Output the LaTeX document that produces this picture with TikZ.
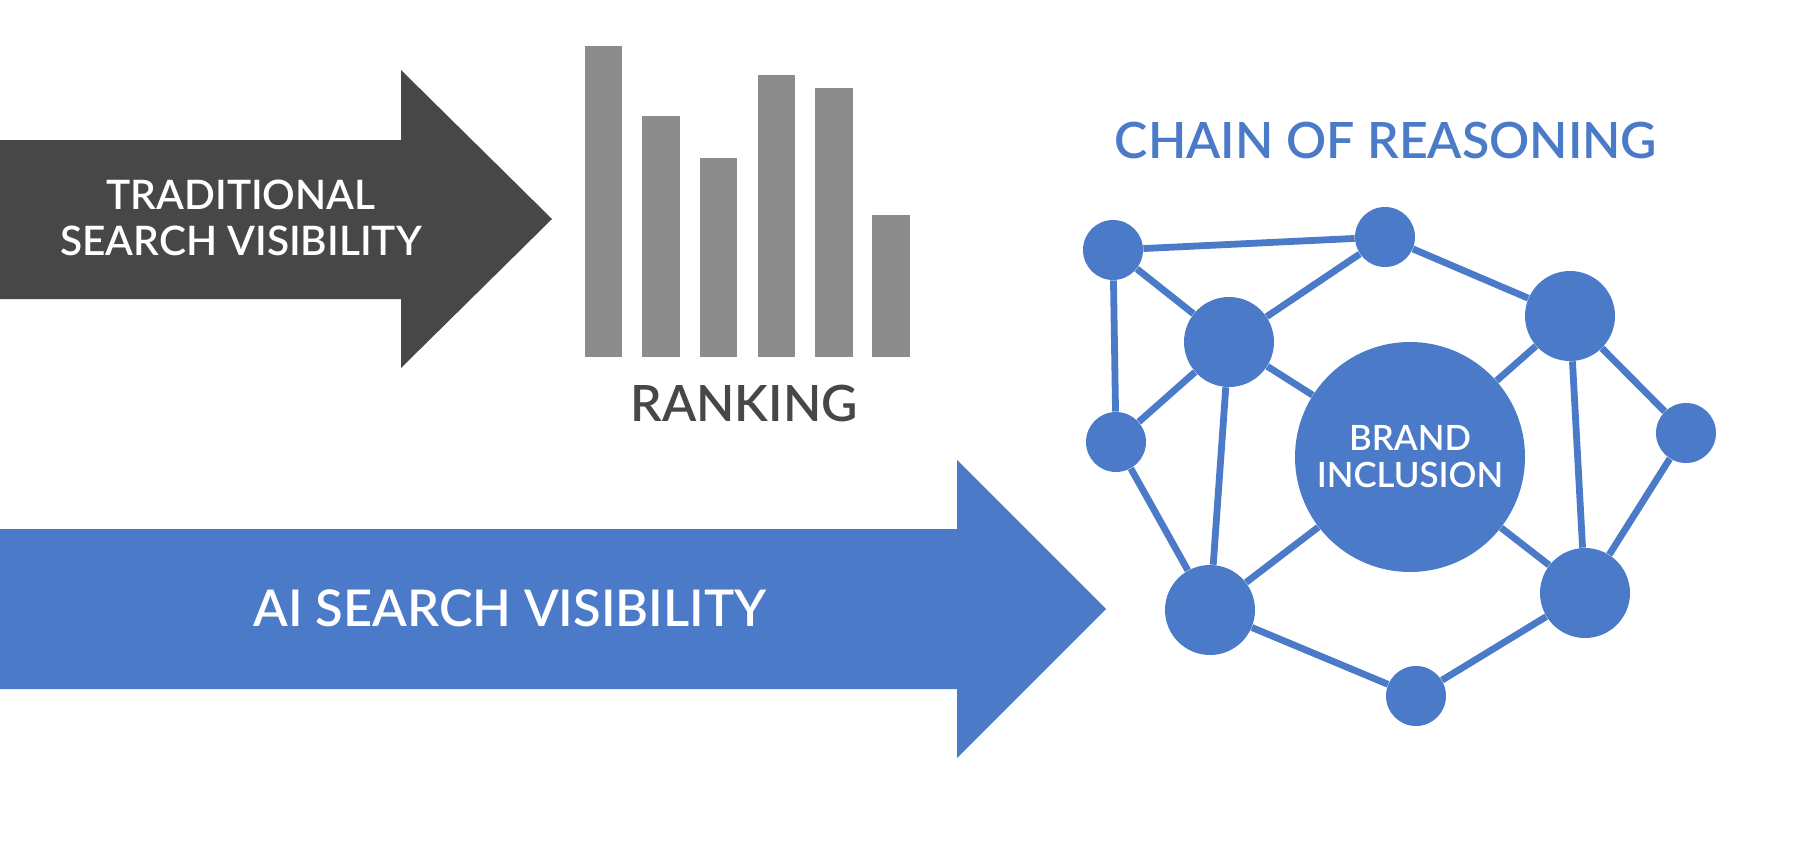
\documentclass[tikz,border=0pt]{standalone}
\usepackage{fontspec}
\setmainfont{Lato Semibold}
\definecolor{cblue}{HTML}{4A7AC8}
\definecolor{cdark}{HTML}{474747}
\definecolor{cbar}{HTML}{8C8C8C}
\begin{document}
\begin{tikzpicture}[x=0.5pt,y=-0.5pt,
  dot/.style={circle,fill=cblue,inner sep=0pt,minimum size=30pt},
  bigdot/.style={circle,fill=cblue,inner sep=0pt,minimum size=45pt},
  link/.style={draw=cblue,line width=3.4pt},
  barbox/.style={fill=cbar},
  label/.style={inner sep=0pt,align=center}]
\path[use as bounding box, fill=white] (0,0) rectangle (1798,856);

% traditional arrow
\fill[cdark] (0,140) -- (401,140) -- (401,70) -- (552,219) -- (401,368) -- (401,299) -- (0,299) -- cycle;
\node[label,text=white,font=\fontsize{20.3}{23}\selectfont] (trad) at (241,218) {TRADITIONAL\\SEARCH VISIBILITY};

% AI arrow
\fill[cblue] (0,529) -- (957,529) -- (957,460) -- (1106,609) -- (957,758) -- (957,689) -- (0,689) -- cycle;
\node[label,text=white,font=\fontsize{25.3}{28}\selectfont] (ai) at (510,608) {AI SEARCH VISIBILITY};

% bars
\fill[barbox] (585,46) rectangle (622,357);
\fill[barbox] (642,116) rectangle (680,357);
\fill[barbox] (700,158) rectangle (737,357);
\fill[barbox] (758,75) rectangle (795,357);
\fill[barbox] (815,88) rectangle (853,357);
\fill[barbox] (872,215) rectangle (910,357);
\node[label,text=cdark,font=\fontsize{25}{30}\selectfont] (rank) at (744,403) {RANKING};

% title
\node[label,text=cblue,font=\fontsize{25}{30}\selectfont] (title) at (1386,140) {CHAIN OF REASONING};

% network
\node[dot] (n1) at (1113,250) {};
\node[dot] (n2) at (1385,237) {};
\node[bigdot] (n3) at (1229,342) {};
\node[bigdot] (n4) at (1570,316) {};
\node[dot] (n5) at (1116,442) {};
\node[dot] (n6) at (1686,433) {};
\node[bigdot] (n7) at (1210,610) {};
\node[bigdot] (n8) at (1585,593) {};
\node[dot] (n9) at (1416,696) {};
\node[circle,fill=cblue,inner sep=0pt,minimum size=115pt,text=white,align=center,
      font=\fontsize{17.4}{18.5}\selectfont] (brand) at (1410,457) {BRAND\\INCLUSION};

\draw[link] (n1) -- (n2);
\draw[link] (n1) -- (n3);
\draw[link] (n1) -- (n5);
\draw[link] (n3) -- (n2);
\draw[link] (n3) -- (n5);
\draw[link] (n3) -- (brand);
\draw[link] (n3) -- (n7);
\draw[link] (n2) -- (n4);
\draw[link] (n4) -- (brand);
\draw[link] (n4) -- (n6);
\draw[link] (n4) -- (n8);
\draw[link] (n6) -- (n8);
\draw[link] (n5) -- (n7);
\draw[link] (n7) -- (brand);
\draw[link] (n7) -- (n9);
\draw[link] (brand) -- (n8);
\draw[link] (n8) -- (n9);
\end{tikzpicture}
\end{document}
